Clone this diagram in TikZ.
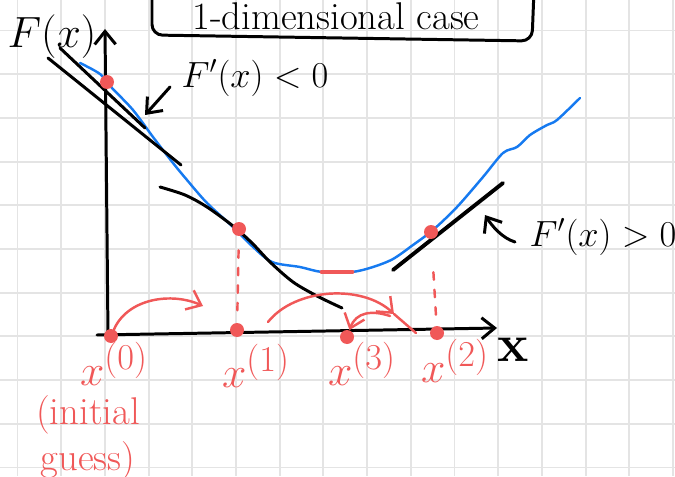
\documentclass[tikz,border=0pt]{standalone}
\usepackage{xcolor}
\usepackage{tikz}
\usepackage{amsmath}
\usetikzlibrary{arrows.meta,positioning,calc}
\definecolor{curveblue}{RGB}{22,122,240}
\definecolor{iterred}{RGB}{240,88,88}
\definecolor{gridgray}{RGB}{228,228,228}

\begin{document}
\begin{tikzpicture}[
  x=0.02cm, y=-0.02cm,
  gridline/.style={gridgray, line width=1.1pt},
  ink/.style={black, line width=1.7pt, line cap=round, line join=round},
  fcurve/.style={curveblue, line width=1.4pt, line cap=round},
  iter/.style={iterred, line width=1.4pt, line cap=round, line join=round},
  barb/.style={-{Straight Barb[length=2.6mm, width=4.2mm]}},
  dashdrop/.style={iter, dash pattern=on 0.15cm off 0.2cm},
  dot/.style={circle, fill=iterred, inner sep=0pt, minimum size=0.28cm},
  titletext/.style={inner sep=0pt, font=\fontsize{22}{24}\selectfont},
  slopelabel/.style={font=\fontsize{20}{22}\selectfont},
  iterlabel/.style={text=iterred, inner sep=0pt, font=\fontsize{28}{30}\selectfont},
]
  \path[use as bounding box, clip] (0,0) rectangle (675,476);

  % Grid paper
  \foreach \k in {0,...,15}
    \draw[gridline] ({17.5+43.7*\k},0) -- ++(0,476);
  \foreach \k in {0,...,10}
    \draw[gridline] (0,{30.5+43.7*\k}) -- ++(675,0);

  % Title
  \node[titletext] (title) at (336,16) {1-dimensional case};
  \draw[ink, rounded corners=6pt] (152,-10) -- (152,35) -- (532,41) -- (534,-10);

  % Axes
  \coordinate (origin) at (108,336);
  \coordinate (ytip) at (105,29);
  \coordinate (xstart) at (97,335);
  \coordinate (xtip) at (497,328);
  \draw[ink, barb] (origin) -- (ytip);
  \draw[ink, barb] (xstart) -- (xtip);
  \node[font=\fontsize{24}{26}\selectfont] (flabel) at (52,37) {$F(x)$};
  \node[font=\fontsize{30}{30}\selectfont\bfseries] (xlabel) at (513,350) {x};

  % Function
  \draw[fcurve] plot[smooth, tension=0.5] coordinates {
    (80,63) (100,74) (112,88) (133,110) (153,137) (173,163) (187,180)
    (207,203) (233,227) (252,246) (272,262) (300,267) (322,272) (352,272)
    (373,267) (393,259) (413,245) (433,230) (457,207) (483,177) (503,153)
    (517,147) (530,135) (547,125) (557,120) (580,98)};
  \draw[iter, line width=2.8pt] (322,272) -- (352,272);

  % Tangent lines
  \draw[ink] (48,58) -- (181,165);
  \draw[ink] (60,48) -- (145,128);
  \draw[ink] plot[smooth, tension=0.5] coordinates {
    (160,187) (185,195) (207,207) (233,226) (252,243) (270,262)
    (293,282) (317,296) (342,308)};
  \draw[ink, line width=2.2pt] (393,270) -- (503,183);

  % Slope labels
  \node[slopelabel] (negslope) at (255,78) {$F'(x) < 0$};
  \node[slopelabel] (posslope) at (603,237) {$F'(x) > 0$};
  \coordinate (negarrow) at (170,87);
  \coordinate (negtip) at (145,115);
  \coordinate (posarrow) at (515,242);
  \coordinate (postip) at (485,215);
  \draw[ink, barb] (negarrow) -- (negtip);
  \draw[ink, barb] (posarrow) .. controls (502,238) and (492,226) .. (postip);

  % Points on the curve
  \node[dot] (p0) at (107,82) {};
  \node[dot] (p1) at (239,229) {};
  \node[dot] (p2) at (431,232) {};

  % Iterates on the x axis
  \node[dot] (g0) at (111,336) {};
  \node[dot] (g1) at (237,330) {};
  \node[dot] (g3) at (347,337) {};
  \node[dot] (g2) at (437,333) {};

  \draw[dashdrop, shorten <=0.28cm, shorten >=0.16cm] (p1) -- (g1);
  \draw[dashdrop, shorten <=0.66cm, shorten >=0.16cm] (p2) -- (g2);

  % Steps
  \coordinate (step0end) at (203,306);
  \coordinate (step1start) at (268,322);
  \coordinate (step1mid) at (394,314);
  \coordinate (step1end) at (416,333);
  \coordinate (step2start) at (390,316);
  \draw[iter, barb] (g0) .. controls (128,298) and (172,292) .. (step0end);
  \draw[iter, barb] (step1start) .. controls (295,288) and (362,284) .. (step1mid);
  \draw[iter] (step1mid) -- (step1end);
  \draw[iter, barb] (step2start) .. controls (372,310) and (356,312) .. (g3);

  % Iterate labels
  \node[iterlabel] (l0) at (114,364) {$x^{(0)}$};
  \node[iterlabel] (l1) at (256,366) {$x^{(1)}$};
  \node[iterlabel] (l3) at (362,364) {$x^{(3)}$};
  \node[iterlabel] (l2) at (455,361) {$x^{(2)}$};
  \node[text=iterred, inner sep=0pt, font=\fontsize{22}{26}\selectfont, align=center] (guess) at (88,438) {(initial\\guess)};
\end{tikzpicture}
\end{document}
